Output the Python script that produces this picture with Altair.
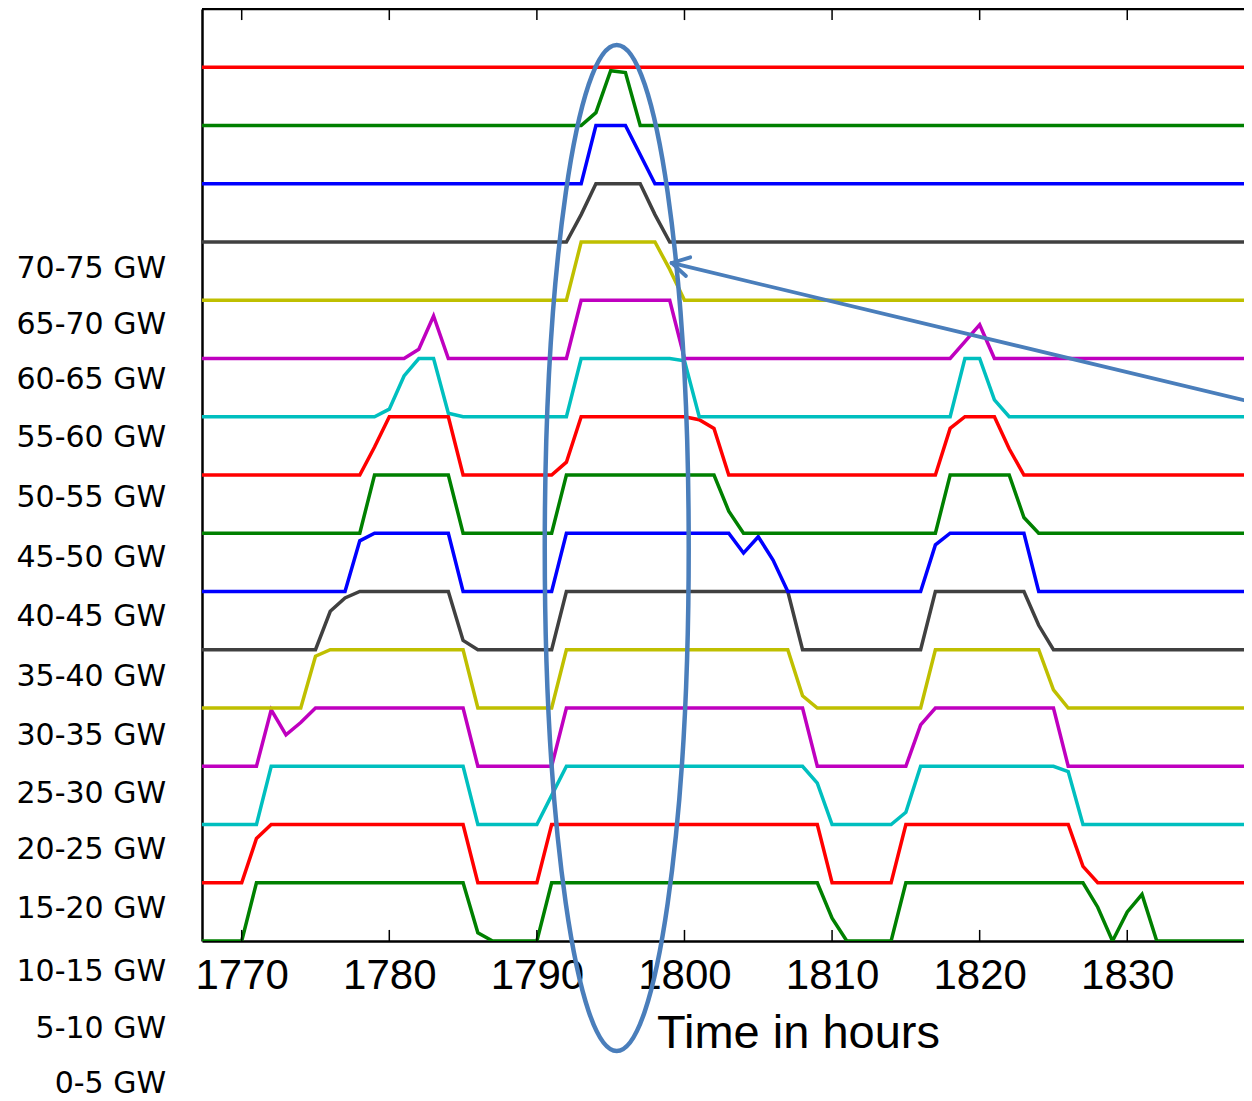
import altair as alt
import pandas as pd

# ---------------- data (hour, fraction of the band) ----------------
X_MIN, X_MAX = 1767.31, 1837.91
Y_MIN, Y_MAX = 0, 16

s00 = [(1767, 0), (1770, 0), (1771, 1), (1785, 1), (1786, 0.14), (1787, 0), (1790, 0), (1791, 1),
       (1809, 1), (1810, 0.39), (1811, 0), (1814, 0), (1815, 1), (1827, 1), (1828, 0.58), (1829, 0),
       (1830, 0.5), (1831, 0.8), (1832, 0), (1839, 0)]
s01 = [(1767, 0), (1770, 0), (1771, 0.76), (1772, 1), (1785, 1), (1786, 0), (1790, 0), (1791, 1),
       (1809, 1), (1810, 0), (1814, 0), (1815, 1), (1826, 1), (1827, 0.28), (1828, 0), (1839, 0)]
s02 = [(1767, 0), (1771, 0), (1772, 1), (1785, 1), (1786, 0), (1790, 0), (1791, 0.5), (1792, 1),
       (1808, 1), (1809, 0.71), (1810, 0), (1814, 0), (1815, 0.21), (1816, 1), (1825, 1), (1826, 0.91),
       (1827, 0), (1839, 0)]
s03 = [(1767, 0), (1771, 0), (1772, 0.97), (1773, 0.54), (1774, 0.75), (1775, 1), (1785, 1), (1786, 0),
       (1791, 0), (1792, 1), (1808, 1), (1809, 0), (1815, 0), (1816, 0.71), (1817, 1), (1825, 1),
       (1826, 0), (1839, 0)]
s04 = [(1767, 0), (1774, 0), (1775, 0.89), (1776, 1), (1785, 1), (1786, 0), (1791, 0), (1792, 1),
       (1807, 1), (1808, 0.21), (1809, 0), (1816, 0), (1817, 1), (1824, 1), (1825, 0.31), (1826, 0),
       (1839, 0)]
s05 = [(1767, 0), (1775, 0), (1776, 0.66), (1777, 0.89), (1778, 1), (1784, 1), (1785, 0.16), (1786, 0),
       (1791, 0), (1792, 1), (1807, 1), (1808, 0), (1816, 0), (1817, 1), (1823, 1), (1824, 0.42),
       (1825, 0), (1839, 0)]
s06 = [(1767, 0), (1777, 0), (1778, 0.87), (1779, 1), (1784, 1), (1785, 0), (1791, 0), (1792, 1),
       (1803, 1), (1804, 0.66), (1805, 0.94), (1806, 0.54), (1807, 0), (1816, 0), (1817, 0.8), (1818, 1),
       (1823, 1), (1824, 0), (1839, 0)]
s07 = [(1767, 0), (1778, 0), (1779, 1), (1784, 1), (1785, 0), (1791, 0), (1792, 1), (1802, 1),
       (1803, 0.38), (1804, 0), (1817, 0), (1818, 1), (1822, 1), (1823, 0.27), (1824, 0), (1839, 0)]
s08 = [(1767, 0), (1778, 0), (1779, 0.48), (1780, 1), (1784, 1), (1785, 0), (1791, 0), (1792, 0.22),
       (1793, 1), (1800, 1), (1801, 0.95), (1802, 0.8), (1803, 0), (1817, 0), (1818, 0.8), (1819, 1),
       (1821, 1), (1822, 0.45), (1823, 0), (1839, 0)]
s09 = [(1767, 0), (1779, 0), (1780, 0.13), (1781, 0.7), (1782, 1), (1783, 1), (1784, 0.06), (1785, 0),
       (1792, 0), (1793, 1), (1799, 1), (1800, 0.96), (1801, 0), (1818, 0), (1819, 1), (1820, 1),
       (1821, 0.29), (1822, 0), (1839, 0)]
s10 = [(1767, 0), (1781, 0), (1782, 0.16), (1783, 0.73), (1784, 0), (1792, 0), (1793, 1), (1799, 1),
       (1800, 0), (1818, 0), (1819, 0.29), (1820, 0.58), (1821, 0), (1839, 0)]
s11 = [(1767, 0), (1792, 0), (1793, 1), (1798, 1), (1799, 0.53), (1800, 0), (1839, 0)]
s12 = [(1767, 0), (1792, 0), (1793, 0.47), (1794, 1), (1797, 1), (1798, 0.47), (1799, 0), (1839, 0)]
s13 = [(1767, 0), (1793, 0), (1794, 1), (1796, 1), (1798, 0), (1839, 0)]
s14 = [(1767, 0), (1793, 0), (1794, 0.22), (1795, 0.94), (1796, 0.91), (1797, 0), (1839, 0)]
s15 = [(1767, 0), (1839, 0)]

series = [s00, s01, s02, s03, s04, s05, s06, s07, s08, s09, s10, s11, s12, s13, s14, s15]
series_names = [f"s{i:02d}" for i in range(len(series))]
series_colors = ["#008000", "#FF0000", "#00BFBF", "#BF00BF", "#BFBF00", "#404040", "#0000FF",
                 "#008000", "#FF0000", "#00BFBF", "#BF00BF", "#BFBF00", "#404040", "#0000FF",
                 "#008000", "#FF0000"]

x_ticks = [1770, 1780, 1790, 1800, 1810, 1820, 1830]

gw_labels = ["70-75 GW", "65-70 GW", "60-65 GW", "55-60 GW", "50-55 GW", "45-50 GW", "40-45 GW",
             "35-40 GW", "30-35 GW", "25-30 GW", "20-25 GW", "15-20 GW", "10-15 GW", "5-10 GW", "0-5 GW"]
gw_label_pos = [11.545, 10.575, 9.634, 8.627, 7.611, 6.575, 5.559, 4.524, 3.516, 2.529, 1.559,
                0.551, -0.530, -1.519, -2.455]
LABEL_X = 1764.88

# annotation: ellipse (centre) and arrow (tail->tip, then two barbs)
ellipse_center = {"hour": [1795.41], "level": [6.747]}
arrow_x = [1837.91, 1799.13, 1799.13]
arrow_y = [9.286, 11.64, 11.64]
arrow_x2 = [1799.13, 1800.39, 1800.10]
arrow_y2 = [11.64, 11.737, 11.416]

# ---------------- build ----------------
rows = []
for i, pts in enumerate(series):
    for h, f in pts:
        rows.append({"series": series_names[i], "hour": h, "level": i + f})
df = pd.DataFrame(rows)

x_scale = alt.Scale(domain=[X_MIN, X_MAX], nice=False, zero=False)
y_scale = alt.Scale(domain=[Y_MIN, Y_MAX], nice=False, zero=False)

ANNOT = "#4A7EBB"

lines = alt.Chart(df).mark_line(strokeWidth=3.5, clip=True).encode(
    x=alt.X("hour:Q", scale=x_scale,
            axis=alt.Axis(values=x_ticks, format="d", grid=False, ticks=False, tickSize=0,
                          labelFont="Liberation Sans", labelFontSize=42, labelColor="black",
                          labelPadding=14, labelFlush=False, labelOverlap=False,
                          domain=True, domainColor="black", domainWidth=2.5,
                          title="Time in hours", titleFont="Liberation Sans", titleFontSize=47,
                          titleFontWeight="normal", titleColor="black", titleX=596, titleY=106,
                          titleAlign="center", titleBaseline="alphabetic")),
    y=alt.Y("level:Q", scale=y_scale,
            axis=alt.Axis(labels=False, ticks=False, tickSize=0, grid=False, title="",
                          domain=True, domainColor="black", domainWidth=2.5)),
    color=alt.Color("series:N", scale=alt.Scale(domain=series_names, range=series_colors), legend=None),
    detail="series:N",
)

tick_df = pd.DataFrame({"hour": x_ticks})
top_ticks = alt.Chart(tick_df).mark_rule(color="black", strokeWidth=1.5).encode(
    x=alt.X("hour:Q", scale=x_scale),
    y=alt.YDatum(16, scale=y_scale),
    y2=alt.Y2Datum(15.81),
)
bottom_ticks = alt.Chart(tick_df).mark_rule(color="black", strokeWidth=1.5).encode(
    x=alt.X("hour:Q", scale=x_scale),
    y=alt.YDatum(0, scale=y_scale),
    y2=alt.Y2Datum(0.19),
)
top_border = alt.Chart(pd.DataFrame({"k": [0]})).mark_rule(color="black", strokeWidth=2.5).encode(
    y=alt.YDatum(16, scale=y_scale),
)

label_df = pd.DataFrame({"label": gw_labels, "pos": gw_label_pos})
labels = alt.Chart(label_df).mark_text(font="DejaVu Sans", fontSize=30, align="right",
                                       baseline="middle", color="black").encode(
    x=alt.XDatum(LABEL_X, scale=x_scale),
    y=alt.Y("pos:Q", scale=y_scale),
    text="label:N",
)

rx = 72 / 503
k = 0.5523
ELLIPSE_PATH = (
    f"M 0 -1 C {k*rx:.4f} -1 {rx:.4f} {-k:.4f} {rx:.4f} 0 "
    f"C {rx:.4f} {k:.4f} {k*rx:.4f} 1 0 1 "
    f"C {-k*rx:.4f} 1 {-rx:.4f} {k:.4f} {-rx:.4f} 0 "
    f"C {-rx:.4f} {-k:.4f} {-k*rx:.4f} -1 0 -1 Z"
)
ellipse = alt.Chart(pd.DataFrame(ellipse_center)).mark_point(
    shape=ELLIPSE_PATH, size=1006 ** 2, filled=False, color=ANNOT, strokeWidth=4.5, opacity=1
).encode(
    x=alt.X("hour:Q", scale=x_scale),
    y=alt.Y("level:Q", scale=y_scale),
)

arrow_df = pd.DataFrame({"x": arrow_x, "y": arrow_y, "x2": arrow_x2, "y2": arrow_y2})
arrow = alt.Chart(arrow_df).mark_rule(color=ANNOT, strokeWidth=3.8, strokeCap="round").encode(
    x=alt.X("x:Q", scale=x_scale),
    y=alt.Y("y:Q", scale=y_scale),
    x2="x2:Q",
    y2="y2:Q",
)

chart = alt.layer(lines, top_ticks, bottom_ticks, top_border, labels, ellipse, arrow).properties(
    width=1042,
    height=932,
    autosize=alt.AutoSizeParams(type="none"),
    padding={"left": 194, "top": 1, "right": 0, "bottom": 159},
    background="white",
).configure_view(strokeWidth=0).configure_axis(grid=False)

chart.save("out.html", embed_options={"renderer": "svg", "actions": False})
